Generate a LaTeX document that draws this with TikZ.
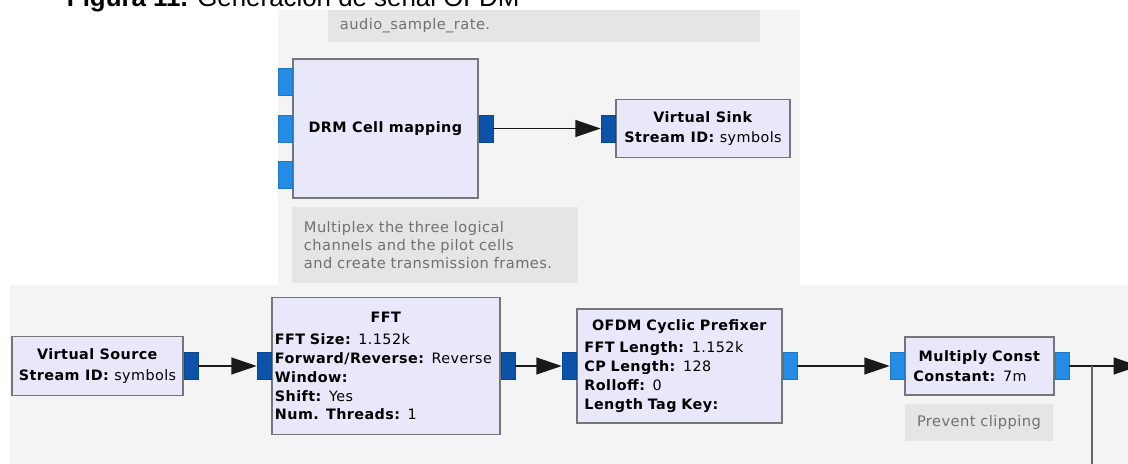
\documentclass[tikz,border=0pt]{standalone}
\usepackage{fontspec}
\setmainfont{DejaVu Sans}[LetterSpace=3]
\newfontfamily\capfont{Liberation Sans}
\usepackage{xcolor}
\usepackage{tikz}
\usetikzlibrary{
  arrows.meta,
  positioning,
  calc
}
\definecolor{CanvasGray}{RGB}{244,244,244}
\definecolor{BlockFill}{RGB}{233,231,250}
\definecolor{BlockEdge}{RGB}{118,118,122}
\definecolor{PortDark}{RGB}{12,82,168}
\definecolor{PortLight}{RGB}{36,140,228}
\definecolor{NoteFill}{RGB}{229,229,229}
\definecolor{NoteText}{RGB}{112,112,112}
\definecolor{WireGray}{RGB}{100,100,100}
\newcommand{\prm}[2]{\textbf{#1:} #2}
\newcommand{\btitle}[1]{\makebox[\hsize]{\textbf{#1}}}
\tikzset{
  %%-- blocks and ports ---------------------------------------
  blk/.style = {
    rectangle, draw = BlockEdge, fill = BlockFill,
    line width = 1.0pt, inner sep = 0pt,
    font = \fontsize{10.2}{13.5}\selectfont
  },
  port/.style args = {#1}{
    rectangle, draw = #1!85!black, fill = #1,
    line width = 0.4pt, inner sep = 0pt,
    minimum width = 0.35cm, minimum height = 0.675cm
  },
  %%-- comments ----------------------------------------------
  note/.style = {
    rectangle, fill = NoteFill,
    inner xsep = 0.3cm, inner ysep = 0pt,
    align = left, text = NoteText,
    font = \fontsize{10.4}{12.8}\selectfont
  },
  %%-- wires -------------------------------------------------
  arr/.style = {->, >= {Triangle[length=18pt, width=12pt]},
    line width = 1.0pt, color = black!90},
}

\begin{document}
\begin{tikzpicture}[x=0.025cm, y=-0.025cm]
  \useasboundingbox (0,0) rectangle (1128,464);
  \clip (0,0) rectangle (1128,464);
  % canvas
  \fill[CanvasGray] (278,10) rectangle (800,285);
  \fill[CanvasGray] (10,285) rectangle (1128,464);

  \node[anchor=base west, font=\capfont\fontsize{18.4}{20}\selectfont]
    (caption) at (62,7) {\textbf{Figura 11.} Generación de señal OFDM};

  % upper flow graph
  \node[note, text width=10.2cm, minimum height=0.8cm] (cmtRate)
    at (544,26) {audio\_sample\_rate.};
  \node[blk, minimum width=4.625cm, minimum height=3.475cm] (drm)
    at (385.5,128.5) {\textbf{DRM Cell mapping}};
  \node[port=PortLight, left=0pt of drm, yshift=33pt] (drmInA) {};
  \node[port=PortLight, left=0pt of drm]              (drmInB) {};
  \node[port=PortLight, left=0pt of drm, yshift=-33pt] (drmInC) {};
  \node[port=PortDark,  right=0pt of drm] (drmOut) {};
  \node[note, text width=6.55cm, minimum height=1.9cm] (cmtDrm)
    at (435,245) {Multiplex the three logical\\channels and the pilot cells\\and create transmission frames.};

  \node[blk, minimum width=4.35cm, minimum height=1.45cm, align=center] (sink)
    at (703,128.5) {\textbf{Virtual Sink}\\[1pt]\prm{Stream ID}{symbols}};
  \node[port=PortDark, left=0pt of sink] (sinkIn) {};
  \draw[arr] (drmOut) -- (sinkIn);

  % lower flow graph
  \node[blk, minimum width=4.275cm, minimum height=1.475cm, align=center] (vsrc)
    at (97.5,366) {\textbf{Virtual Source}\\[1pt]\prm{Stream ID}{symbols}};
  \node[port=PortDark, right=0pt of vsrc] (vsrcOut) {};

  \node[blk, minimum width=5.7cm, minimum height=3.425cm,
        text width=5.55cm, align=left] (fft) at (386,366)
    {\btitle{FFT}\\[2pt]
     \prm{FFT Size}{1.152k}\\
     \prm{Forward/Reverse}{Reverse}\\
     \prm{Window}{}\\
     \prm{Shift}{Yes}\\
     \prm{Num. Threads}{1}};
  \node[port=PortDark, left=0pt of fft]  (fftIn) {};
  \node[port=PortDark, right=0pt of fft] (fftOut) {};

  \node[blk, minimum width=5.125cm, minimum height=2.85cm,
        text width=4.75cm, align=left] (ofdm) at (679.5,366)
    {\btitle{OFDM Cyclic Prefixer}\\[2pt]
     \prm{FFT Length}{1.152k}\\
     \prm{CP Length}{128}\\
     \prm{Rolloff}{0}\\
     \prm{Length Tag Key}{}};
  \node[port=PortDark,  left=0pt of ofdm]  (ofdmIn) {};
  \node[port=PortLight, right=0pt of ofdm] (ofdmOut) {};

  \node[blk, minimum width=3.725cm, minimum height=1.45cm,
        text width=3.3cm, align=left] (mult) at (979.5,366)
    {\btitle{Multiply Const}\\[1pt]\prm{Constant}{7m}};
  \node[port=PortLight, left=0pt of mult]  (multIn) {};
  \node[port=PortLight, right=0pt of mult] (multOut) {};
  \node[note, text width=3.1cm, minimum height=0.925cm] (cmtClip)
    at (979,422.5) {Prevent clipping};

  \coordinate (offR)   at (1139,366);
  \coordinate (tap)    at (1092,366);
  \coordinate (tapEnd) at (1092,470);

  \draw[arr] (vsrcOut) -- (fftIn);
  \draw[arr] (fftOut) -- (ofdmIn);
  \draw[arr] (ofdmOut) -- (multIn);
  \draw[arr] (multOut) -- (offR);
  \draw[WireGray, line width=1.0pt] (tap) -- (tapEnd);
\end{tikzpicture}
\end{document}
